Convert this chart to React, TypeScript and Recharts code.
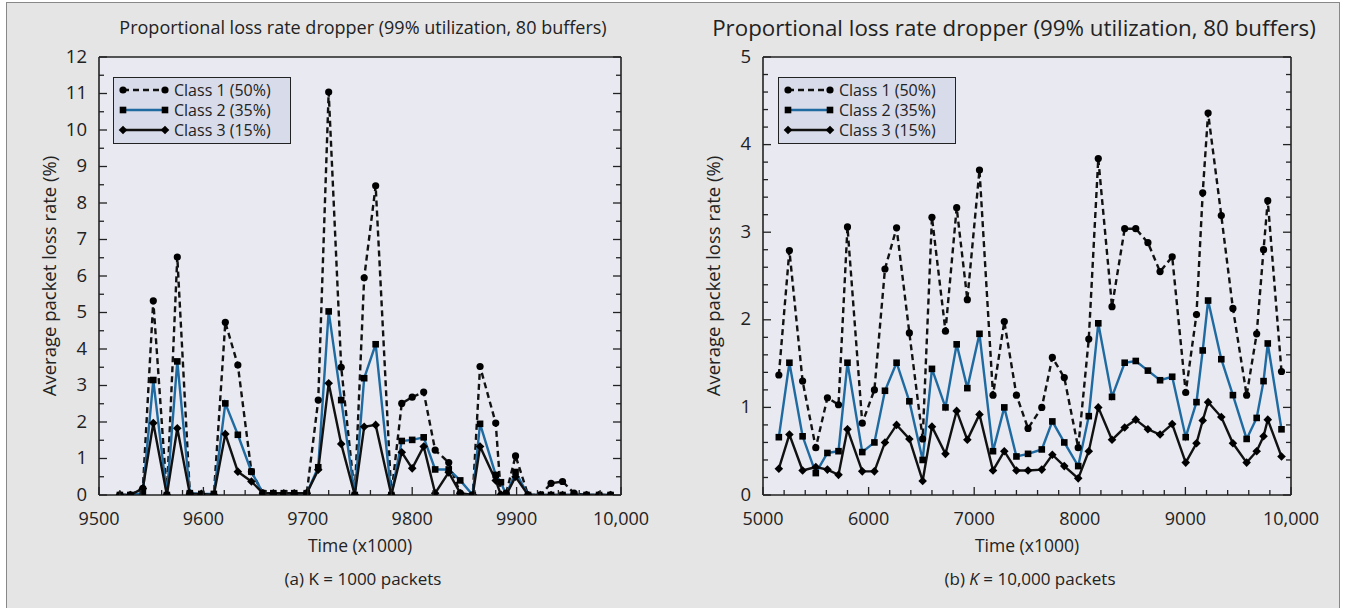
import React from 'react';
import { LineChart, Line, XAxis, YAxis, Legend } from 'recharts';

const FONT = '"Open Sans", "Noto Sans", sans-serif';
const INK = '#222';
const BLUE = '#1f6aa0';

// (a) K = 1000 packets
const timeA = [9520, 9530, 9542, 9552, 9565, 9575, 9587, 9598, 9610, 9621, 9633, 9646, 9657, 9667, 9677, 9687, 9699, 9710, 9720, 9732, 9745, 9754, 9765, 9780, 9790, 9800, 9811, 9822, 9835, 9846, 9858, 9865, 9880, 9885, 9890, 9899, 9911, 9923, 9933, 9944, 9955, 9967, 9979, 9990];
const class1A = [0, 0, 0.18, 5.32, 0, 6.52, 0.05, 0, 0, 4.73, 3.56, 0.64, 0.05, 0.03, 0.03, 0.03, 0.05, 2.6, 11.04, 3.5, 0, 5.95, 8.47, 0, 2.51, 2.68, 2.82, 1.23, 0.89, 0.05, 0, 3.52, 1.97, 0, 0.05, 1.07, 0, 0, 0.32, 0.37, 0.05, 0, 0, 0];
const class2A = [0, 0, 0.05, 3.15, 0, 3.66, 0.05, 0.03, 0.03, 2.51, 1.65, 0.64, 0.05, 0.05, 0.05, 0.05, 0.05, 0.76, 5.03, 2.6, 0, 3.2, 4.13, 0, 1.48, 1.51, 1.58, 0.7, 0.7, 0.4, 0, 1.95, 0.55, 0.35, 0, 0.63, 0, 0, 0, 0, 0, 0, 0, 0];
const class3A = [0, 0, 0.18, 1.97, 0, 1.83, 0.03, 0.03, 0, 1.67, 0.64, 0.37, 0.05, 0.05, 0.05, 0.05, 0.05, 0.69, 3.06, 1.4, 0, 1.87, 1.92, 0, 1.17, 0.73, 1.33, 0.05, 0.62, 0.05, 0, 1.33, 0.4, 0, 0, 0.5, 0, 0, 0, 0, 0, 0, 0, 0];

// (b) K = 10,000 packets
const timeB = [5150, 5250, 5375, 5500, 5610, 5715, 5800, 5940, 6055, 6155, 6265, 6386, 6512, 6600, 6728, 6834, 6935, 7050, 7178, 7285, 7400, 7510, 7640, 7740, 7853, 7985, 8085, 8175, 8305, 8425, 8530, 8645, 8760, 8875, 9003, 9105, 9164, 9215, 9340, 9450, 9580, 9675, 9740, 9780, 9910];
const class1B = [1.37, 2.79, 1.3, 0.54, 1.11, 1.03, 3.06, 0.82, 1.2, 2.58, 3.05, 1.85, 0.64, 3.17, 1.87, 3.28, 2.23, 3.71, 1.14, 1.98, 1.14, 0.76, 1.0, 1.57, 1.34, 0.54, 1.78, 3.84, 2.15, 3.04, 3.04, 2.88, 2.55, 2.72, 1.17, 2.06, 3.45, 4.36, 3.19, 2.13, 1.14, 1.84, 2.8, 3.36, 1.41];
const class2B = [0.66, 1.51, 0.67, 0.25, 0.48, 0.5, 1.51, 0.49, 0.6, 1.19, 1.51, 1.07, 0.4, 1.44, 1.0, 1.72, 1.22, 1.84, 0.5, 1.0, 0.44, 0.47, 0.52, 0.84, 0.6, 0.33, 0.9, 1.96, 1.12, 1.51, 1.53, 1.42, 1.31, 1.35, 0.66, 1.06, 1.65, 2.22, 1.55, 1.14, 0.64, 0.88, 1.3, 1.73, 0.75];
const class3B = [0.3, 0.69, 0.28, 0.32, 0.29, 0.23, 0.75, 0.27, 0.27, 0.6, 0.8, 0.64, 0.16, 0.78, 0.47, 0.96, 0.63, 0.92, 0.28, 0.5, 0.28, 0.28, 0.29, 0.46, 0.33, 0.19, 0.5, 1.0, 0.63, 0.77, 0.86, 0.75, 0.69, 0.81, 0.37, 0.59, 0.85, 1.06, 0.89, 0.59, 0.37, 0.5, 0.67, 0.86, 0.44];

const majorXA = [9500, 9600, 9700, 9800, 9900, 10000];
const majorYA = [0, 1, 2, 3, 4, 5, 6, 7, 8, 9, 10, 11, 12];
const majorXB = [5000, 6000, 7000, 8000, 9000, 10000];
const majorYB = [0, 1, 2, 3, 4, 5];

const SERIES = [
  { key: 'c1', name: 'Class 1 (50%)', color: '#111', dash: '6 4', shape: 'circle' },
  { key: 'c2', name: 'Class 2 (35%)', color: BLUE, dash: undefined, shape: 'square' },
  { key: 'c3', name: 'Class 3 (15%)', color: '#111', dash: undefined, shape: 'diamond' },
];

const steps = (from: number, to: number, step: number) => {
  const out: number[] = [];
  for (let v = from; v <= to + 1e-9; v += step) out.push(Math.round(v * 100) / 100);
  return out;
};

const rows = (t: number[], a: number[], b: number[], c: number[]) =>
  t.map((x, i) => ({ t: x, c1: a[i], c2: b[i], c3: c[i] }));

const dataA = rows(timeA, class1A, class2A, class3A);
const dataB = rows(timeB, class1B, class2B, class3B);

const fmtX = (v: number) => (v === 10000 ? '10,000' : String(v));
const isMajor = (list: number[], v: number) => list.some((m) => Math.abs(m - v) < 1e-6);

const Marker = ({ shape, cx, cy }: any) => {
  if (shape === 'circle') return <circle cx={cx} cy={cy} r={3.6} fill="#000" />;
  if (shape === 'square') return <rect x={cx - 3.3} y={cy - 3.3} width={6.6} height={6.6} fill="#000" />;
  const d = 4.3;
  return <path d={`M${cx},${cy - d}L${cx + d},${cy}L${cx},${cy + d}L${cx - d},${cy}Z`} fill="#000" />;
};

const dotFor = (shape: string) => (p: any) => {
  if (p.cx == null || p.cy == null) return <g key={`e-${p.index}`} />;
  return (
    <g key={`d-${p.index}`}>
      <Marker shape={shape} cx={p.cx} cy={p.cy} />
    </g>
  );
};

const LegendBox = () => (
  <div
    style={{
      width: 178,
      height: 67,
      boxSizing: 'border-box',
      background: '#d8dbe9',
      border: `1.5px solid ${INK}`,
      padding: '2px 0 0 6px',
      fontFamily: FONT,
      fontSize: 16,
      color: INK,
    }}
  >
    {SERIES.map((s) => (
      <div key={s.key} style={{ display: 'flex', alignItems: 'center', height: 20, whiteSpace: 'nowrap' }}>
        <svg width={50} height={12} style={{ marginRight: 4, overflow: 'visible' }}>
          <line x1={3} x2={45} y1={6} y2={6} stroke={s.color} strokeWidth={2.4} strokeDasharray={s.dash} />
          <Marker shape={s.shape} cx={3} cy={6} />
          <Marker shape={s.shape} cx={45} cy={6} />
        </svg>
        <span style={{ display: 'block', height: 20, lineHeight: '20px' }}>{s.name}</span>
      </div>
    ))}
  </div>
);

const frame = { stroke: INK, strokeWidth: 1.6 };

function Panel({ data, xDomain, xMajor, xStep, yDomain, yMajor, yStep, width, height, margin, yWidth, legendLeft }: any) {
  const xTicks = steps(xDomain[0], xDomain[1], xStep);
  const yTicks = steps(yDomain[0], yDomain[1], yStep);
  return (
    <LineChart width={width} height={height} data={data} margin={margin}>
      <XAxis
        dataKey="t"
        type="number"
        domain={xDomain}
        allowDataOverflow
        ticks={xTicks}
        interval={0}
        height={40}
        tickSize={0}
        tickMargin={0}
        tickLine={false}
        axisLine={frame}
        tick={(p: any) => {
          const big = isMajor(xMajor, p.payload.value);
          return (
            <g>
              <line x1={p.x} x2={p.x} y1={p.y} y2={p.y - (big ? 8 : 5)} stroke={INK} strokeWidth={1.3} />
              {big && (
                <text x={p.x} y={p.y + 30} textAnchor="middle" fontSize={18} fill={INK} fontFamily={FONT}>
                  {fmtX(p.payload.value)}
                </text>
              )}
            </g>
          );
        }}
      />
      <XAxis
        xAxisId="top"
        orientation="top"
        type="number"
        domain={xDomain}
        allowDataOverflow
        ticks={xTicks}
        interval={0}
        height={1}
        tickSize={0}
        tickMargin={0}
        tickLine={false}
        axisLine={frame}
        tick={(p: any) => {
          const big = isMajor(xMajor, p.payload.value);
          return <line x1={p.x} x2={p.x} y1={p.y} y2={p.y + (big ? 8 : 5)} stroke={INK} strokeWidth={1.3} />;
        }}
      />
      <YAxis
        type="number"
        domain={yDomain}
        allowDataOverflow
        ticks={yTicks}
        interval={0}
        width={yWidth}
        tickSize={0}
        tickMargin={0}
        tickLine={false}
        axisLine={frame}
        tick={(p: any) => {
          const big = isMajor(yMajor, p.payload.value);
          return (
            <g>
              <line x1={p.x} x2={p.x + (big ? 8 : 5)} y1={p.y} y2={p.y} stroke={INK} strokeWidth={1.3} />
              {big && (
                <text x={p.x - 12} y={p.y - 1} dy="0.36em" textAnchor="end" fontSize={18.5} fill={INK} fontFamily={FONT}>
                  {p.payload.value}
                </text>
              )}
            </g>
          );
        }}
      />
      <YAxis
        yAxisId="right"
        orientation="right"
        type="number"
        domain={yDomain}
        allowDataOverflow
        ticks={yTicks}
        interval={0}
        width={1}
        tickSize={0}
        tickMargin={0}
        tickLine={false}
        axisLine={frame}
        tick={(p: any) => {
          const big = isMajor(yMajor, p.payload.value);
          return <line x1={p.x} x2={p.x - (big ? 8 : 5)} y1={p.y} y2={p.y} stroke={INK} strokeWidth={1.3} />;
        }}
      />
      <Legend
        layout="vertical"
        align="center"
        verticalAlign="middle"
        content={() => <LegendBox />}
        wrapperStyle={{ left: legendLeft, top: 77, width: 178 }}
      />
      {SERIES.map((s) => (
        <Line
          key={s.key}
          type="linear"
          dataKey={s.key}
          name={s.name}
          stroke={s.color}
          strokeWidth={2.4}
          strokeDasharray={s.dash}
          dot={dotFor(s.shape)}
          activeDot={false}
          isAnimationActive={false}
        />
      ))}
    </LineChart>
  );
}

const Text = ({ x, y, size, children, rotate }: any) => (
  <div
    style={{
      position: 'absolute',
      left: x,
      top: y,
      transform: `translate(-50%, -50%)${rotate ? ' rotate(-90deg)' : ''}`,
      whiteSpace: 'nowrap',
      fontFamily: FONT,
      fontSize: size,
      color: INK,
    }}
  >
    {children}
  </div>
);

const PlotBg = ({ left, width }: any) => (
  <div style={{ position: 'absolute', left, top: 57, width, height: 438, background: '#e8e9f1' }} />
);

export default function App() {
  return (
    <div style={{ position: 'absolute', left: 0, top: 0, width: 1347, height: 608, background: '#fff', overflow: 'hidden' }}>
      <div
        style={{
          position: 'absolute',
          left: 6,
          top: 2,
          width: 1334,
          height: 620,
          background: '#e5e5e5',
          border: '1.5px solid #888',
          boxSizing: 'border-box',
        }}
      />
      <PlotBg left={99} width={522} />
      <PlotBg left={763} width={528} />
      <div style={{ position: 'absolute', left: 0, top: 0 }}>
        <Panel
          data={dataA}
          xDomain={[9500, 10000]}
          xMajor={majorXA}
          xStep={20}
          yDomain={[0, 12]}
          yMajor={majorYA}
          yStep={0.5}
          width={680}
          height={608}
          margin={{ top: 56, right: 58, bottom: 73, left: 0 }}
          yWidth={99}
          legendLeft={113}
        />
      </div>
      <div style={{ position: 'absolute', left: 680, top: 0 }}>
        <Panel
          data={dataB}
          xDomain={[5000, 10000]}
          xMajor={majorXB}
          xStep={200}
          yDomain={[0, 5]}
          yMajor={majorYB}
          yStep={0.2}
          width={667}
          height={608}
          margin={{ top: 56, right: 55, bottom: 73, left: 0 }}
          yWidth={83}
          legendLeft={98}
        />
      </div>
      <Text x={363} y={27} size={18}>Proportional loss rate dropper (99% utilization, 80 buffers)</Text>
      <Text x={1014} y={27} size={22.3}>Proportional loss rate dropper (99% utilization, 80 buffers)</Text>
      <Text x={48} y={276} size={18.5} rotate>Average packet loss rate (%)</Text>
      <Text x={712} y={276} size={18.5} rotate>Average packet loss rate (%)</Text>
      <Text x={360} y={545} size={17.5}>Time (x1000)</Text>
      <Text x={1027} y={545} size={17.5}>Time (x1000)</Text>
      <Text x={363} y={578} size={17}>(a) K = 1000 packets</Text>
      <Text x={1030} y={578} size={17}>
        (b) <i>K</i> = 10,000 packets
      </Text>
    </div>
  );
}
